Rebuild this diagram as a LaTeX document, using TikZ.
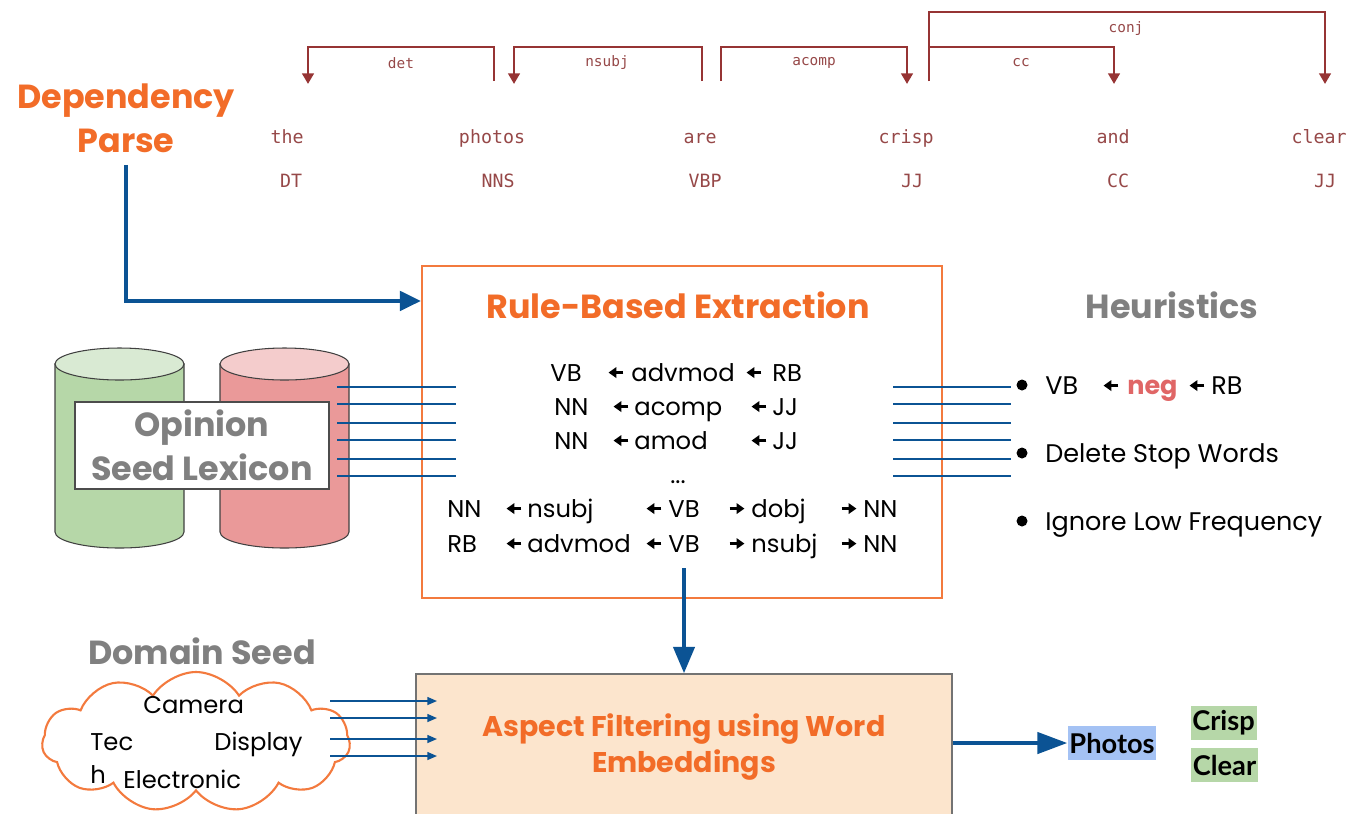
\documentclass[tikz,border=0pt]{standalone}
\usepackage{fontspec}
\setmainfont{Poppins}
\newfontfamily\depfont{DejaVu Sans Mono}
\newfontfamily\latofont{Lato}
\usetikzlibrary{arrows.meta,shapes.symbols}

\definecolor{titleorange}{RGB}{242,108,40}
\definecolor{boxorange}{RGB}{243,122,62}
\definecolor{arrowblue}{RGB}{11,83,148}
\definecolor{headgray}{RGB}{128,128,128}
\definecolor{depred}{RGB}{150,52,52}
\definecolor{deptext}{RGB}{150,72,72}
\definecolor{negred}{RGB}{224,102,102}
\definecolor{cylgreen}{RGB}{182,215,168}
\definecolor{cylgreentop}{RGB}{217,234,211}
\definecolor{cylred}{RGB}{234,153,153}
\definecolor{cylredtop}{RGB}{244,204,204}
\definecolor{aspectfill}{RGB}{252,229,205}
\definecolor{photoblue}{RGB}{164,194,244}

\newcommand{\lfarrow}{\tikz[baseline=-4.8pt]\draw[line width=1.3pt,-{Triangle[length=4.5pt,width=6pt]}] (8.5pt,0) -- (0,0);}
\newcommand{\rtarrow}{\tikz[baseline=-4.8pt]\draw[line width=1.3pt,-{Triangle[length=4.5pt,width=6pt]}] (0,0) -- (8.5pt,0);}

\tikzset{
  heading/.style={font=\fontsize{19}{25}\selectfont\bfseries, text=headgray, inner sep=0},
  word/.style={font=\depfont\fontsize{10.4}{12}\selectfont, text=deptext, anchor=base, inner sep=0},
  deplabel/.style={font=\depfont\fontsize{8.2}{10}\selectfont, text=deptext, inner sep=0},
  deparc/.style={draw=depred, line width=1.6pt, -{Triangle[length=6pt,width=6.5pt]}},
  mainarrow/.style={draw=arrowblue, line width=2.3pt, -{Triangle[length=12pt,width=11pt]}},
  thinline/.style={draw=arrowblue, line width=0.9pt},
  seedarrow/.style={draw=arrowblue, line width=0.9pt, -{Triangle[length=5.5pt,width=4.5pt]}},
  rule/.style={font=\fontsize{13.8}{16}\selectfont, anchor=base west, inner sep=0},
  heurule/.style={rule, font=\fontsize{14.5}{17}\selectfont},
  cyl/.style={draw=black!75, line width=0.6pt},
  rulebox/.style={draw=boxorange, line width=1.2pt},
  lexbox/.style={heading, draw=black!70, line width=0.6pt, fill=white, align=center},
  seedcloud/.style={cloud, draw=boxorange, line width=1.2pt, cloud puffs=11, cloud puff arc=115, aspect=2.2},
  hl/.style={font=\latofont\bfseries\fontsize{15.5}{18}\selectfont, inner xsep=1pt, inner ysep=0, minimum height=6.8mm}
}

\begin{document}
\begin{tikzpicture}[x=0.2mm,y=-0.2mm]
\useasboundingbox (0,0) rectangle (1346,813);

\node[heading, text=titleorange, align=center] (dp) at (126,118) {Dependency\\Parse};

\node[word] (w1) at (287,143) {the};
\node[word] (w2) at (492,143) {photos};
\node[word] (w3) at (700,143) {are};
\node[word] (w4) at (906,143) {crisp};
\node[word] (w5) at (1113,143) {and};
\node[word] (w6) at (1319,143) {clear};

\node[word] (t1) at (291,187) {DT};
\node[word] (t2) at (498,187) {NNS};
\node[word] (t3) at (705,187) {VBP};
\node[word] (t4) at (912,187) {JJ};
\node[word] (t5) at (1118,187) {CC};
\node[word] (t6) at (1325,187) {JJ};

\draw[deparc] (494,81) |- (308,47) -- (308,84);
\draw[deparc] (702,81) |- (514,47) -- (514,84);
\draw[deparc] (721,81) |- (907,47) -- (907,84);
\draw[deparc] (929,81) |- (1114,47) -- (1114,84);
\draw[deparc] (929,81) |- (1325,12) -- (1325,84);

\node[deplabel] (l1) at (401,63) {det};
\node[deplabel] (l2) at (607,63) {nsubj};
\node[deplabel] (l3) at (814,63) {acomp};
\node[deplabel] (l4) at (1021,63) {cc};
\node[deplabel] (l5) at (1126,29) {conj};

\node[rulebox, minimum width=104mm, minimum height=66.4mm] (rbe) at (682,432) {};
\node[heading, text=titleorange, anchor=base] (rbt) at (678,318) {Rule-Based Extraction};

\draw[mainarrow] ([yshift=-2.4mm]dp.south) |- ([yshift=-7.2mm]rbe.north west);

\foreach \x/\t in {550/VB, 607/\lfarrow, 631/advmod, 745/\lfarrow, 772/RB}
  \node[rule] (ra\x) at (\x,381) {\t};
\foreach \x/\t in {554/NN, 612/\lfarrow, 634/acomp, 750/\lfarrow, 772/JJ}
  \node[rule] (rb\x) at (\x,415) {\t};
\foreach \x/\t in {554/NN, 612/\lfarrow, 634/amod, 750/\lfarrow, 772/JJ}
  \node[rule] (rc\x) at (\x,449) {\t};
\node[rule, anchor=base] (rdots) at (678,483) {...};
\foreach \x/\t in {447/NN, 505/\lfarrow, 527/nsubj, 645/\lfarrow, 668/VB, 728/\rtarrow, 751/dobj, 840/\rtarrow, 863/NN}
  \node[rule] (re\x) at (\x,517) {\t};
\foreach \x/\t in {447/RB, 505/\lfarrow, 527/advmod, 645/\lfarrow, 668/VB, 728/\rtarrow, 751/nsubj, 840/\rtarrow, 863/NN}
  \node[rule] (rf\x) at (\x,552) {\t};

\node[heading, anchor=base] (heu) at (1172,318) {Heuristics};
\fill (1022,385) circle (1.1mm);
\fill (1022,453) circle (1.1mm);
\fill (1022,521) circle (1.1mm);
\foreach \x/\t in {1045/VB, 1102/\lfarrow, 1127/{\bfseries\color{negred}neg}, 1188/\lfarrow, 1211/RB}
  \node[heurule] (h\x) at (\x,394) {\t};
\node[heurule] (hdel) at (1045,462) {Delete Stop Words};
\node[heurule] (hign) at (1045,530) {Ignore Low Frequency};

\filldraw[cyl, fill=cylgreen] (55,364) -- (55,532) arc[start angle=180, end angle=360, x radius=12.9mm, y radius=3.2mm] -- (184,364) -- cycle;
\filldraw[cyl, fill=cylgreentop] (119.5,364) ellipse[x radius=12.9mm, y radius=3.2mm];
\filldraw[cyl, fill=cylred] (220,364) -- (220,532) arc[start angle=180, end angle=360, x radius=12.9mm, y radius=3.2mm] -- (349,364) -- cycle;
\filldraw[cyl, fill=cylredtop] (284.5,364) ellipse[x radius=12.9mm, y radius=3.2mm];

\node[lexbox, minimum width=50.8mm, minimum height=17.4mm] (lex) at (202,445.5) {Opinion\\Seed Lexicon};

\foreach \y in {387,404,423,440,459,476}
  \draw[thinline] (337,\y) -- (456,\y);
\foreach \y in {387,404,423,440,459,476}
  \draw[thinline] (893,\y) -- (1011,\y);

\node[heading, anchor=base] (dom) at (202,664) {Domain Seed};
\node[seedcloud, minimum width=61.6mm, minimum height=28mm] (seed) at (196,742) {};
\node[rule] (c1) at (143,713) {Camera};
\node[rule] (c2) at (90,750) {Tec};
\node[rule] (c3) at (214,750) {Display};
\node[rule] (c4) at (90,783) {h};
\node[rule] (c5) at (123,788) {Electronic};

\node[draw=black!55, line width=0.9pt, fill=aspectfill, minimum width=107.2mm, minimum height=31.2mm] (afe) at (684,752) {};
\node[font=\fontsize{16.2}{21}\selectfont\bfseries, text=titleorange, align=center] (aft) at (684,747) {Aspect Filtering using Word\\Embeddings};

\foreach \y in {701,718,739,756}
  \draw[seedarrow] (330,\y) -- (437,\y);

\coordinate (rbout) at (684,568);
\draw[mainarrow, -{Triangle[length=15pt,width=12pt]}] (rbout) -- (afe.north);

\node[hl, fill=photoblue] (photos) at (1112,743) {Photos};
\node[hl, fill=cylgreen] (crisp) at (1223.5,723) {Crisp};
\node[hl, fill=cylgreen] (clear) at (1224.5,765) {Clear};

\draw[mainarrow, -{Triangle[length=17pt,width=12pt]}] (afe.east |- photos) -- (photos.west);
\end{tikzpicture}
\end{document}
